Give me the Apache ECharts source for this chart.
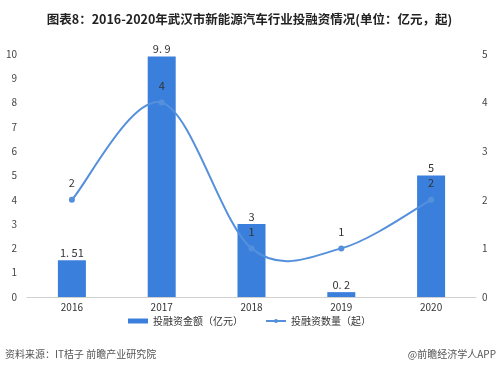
<!DOCTYPE html>
<html><head><meta charset="utf-8">
<script src="https://cdn.jsdelivr.net/npm/echarts@6/dist/echarts.min.js"></script>
<style>html,body{margin:0;padding:0;background:#fff}#c{width:499px;height:372px}</style>
</head><body><div id="c"></div>
<script>
const categories = ['2016', '2017', '2018', '2019', '2020'];
const amountValues = [1.51, 9.9, 3, 0.2, 5];
const countValues = [2, 4, 1, 1, 2];
const leftTicks = { min: 0, max: 10, interval: 1 };
const rightTicks = { min: 0, max: 5, interval: 1 };

const LINE_COLOR = '#5590dc';
const chart = echarts.init(document.getElementById('c'));
const font = '"Noto Sans CJK SC", "Noto Sans", sans-serif';

// Catmull-Rom style smooth curve (as in the source chart), drawn through the axis scales
function renderCurve(params, api) {
  const i = params.dataIndex;
  if (i >= countValues.length - 1) return { type: 'group', children: [] };
  const p = countValues.map((v, k) => api.coord([k, v]));
  const p0 = p[Math.max(i - 1, 0)], p1 = p[i], p2 = p[i + 1], p3 = p[Math.min(i + 2, p.length - 1)];
  return {
    type: 'bezierCurve',
    shape: {
      x1: p1[0], y1: p1[1], x2: p2[0], y2: p2[1],
      cpx1: p1[0] + (p2[0] - p0[0]) / 6, cpy1: p1[1] + (p2[1] - p0[1]) / 6,
      cpx2: p2[0] - (p3[0] - p1[0]) / 6, cpy2: p2[1] - (p3[1] - p1[1]) / 6
    },
    style: { stroke: LINE_COLOR, lineWidth: 2, fill: null },
    silent: true
  };
}

chart.setOption({
  animation: false,
  textStyle: { fontFamily: font },
  title: {
    text: '图表8：2016-2020年武汉市新能源汽车行业投融资情况(单位：亿元，起)',
    left: 'center', top: 8,
    textStyle: { fontSize: 12.5, fontWeight: 'bold', color: '#222', fontFamily: font }
  },
  grid: { left: 27, right: 23, top: 54, bottom: 75, containLabel: false },
  legend: {
    bottom: 41, left: 'center', itemGap: 22, itemWidth: 20, itemHeight: 5,
    textStyle: { fontSize: 10, color: '#333' },
    data: [
      { name: '投融资金额（亿元）', icon: 'rect' },
      { name: '投融资数量（起）', lineStyle: { color: LINE_COLOR, width: 2, opacity: 1 } }
    ]
  },
  xAxis: {
    type: 'category', data: categories,
    axisLine: { lineStyle: { color: '#d0d0d0' } },
    axisTick: { show: false },
    axisLabel: { color: '#333', fontSize: 10, margin: 5 }
  },
  yAxis: [
    {
      type: 'value', min: leftTicks.min, max: leftTicks.max, interval: leftTicks.interval,
      splitLine: { show: false }, axisLine: { show: false }, axisTick: { show: false },
      axisLabel: { color: '#444', fontSize: 10, margin: 10 }
    },
    {
      type: 'value', min: rightTicks.min, max: rightTicks.max, interval: rightTicks.interval,
      splitLine: { show: false }, axisLine: { show: false }, axisTick: { show: false },
      axisLabel: { color: '#444', fontSize: 10, margin: 6 }
    }
  ],
  series: [
    {
      name: '投融资金额（亿元）', type: 'bar', data: amountValues, yAxisIndex: 0,
      barWidth: 28,
      itemStyle: { color: '#3b7fdc' },
      label: { show: true, position: 'top', color: '#333', fontSize: 11, distance: 2,
        formatter: p => String(p.value).replace('.', '. ') }
    },
    {
      name: '投融资数量曲线', type: 'custom', yAxisIndex: 1,
      data: countValues.map((v, k) => [k, v]),
      renderItem: renderCurve, z: 3, silent: true
    },
    {
      name: '投融资数量（起）', type: 'line', data: countValues, yAxisIndex: 1,
      symbol: 'circle', symbolSize: 6, z: 4,
      lineStyle: { color: LINE_COLOR, width: 2, opacity: 0 },
      itemStyle: { color: LINE_COLOR },
      label: { show: true, position: 'top', color: '#333', fontSize: 11, distance: 8 }
    }
  ],
  graphic: [
    { type: 'text', left: 5, top: 349, style: { text: '资料来源：IT桔子 前瞻产业研究院', fill: '#555', font: '10px ' + font } },
    { type: 'text', right: 3, top: 349, style: { text: '@前瞻经济学人APP', fill: '#555', font: '10px ' + font } }
  ]
});
</script></body></html>
